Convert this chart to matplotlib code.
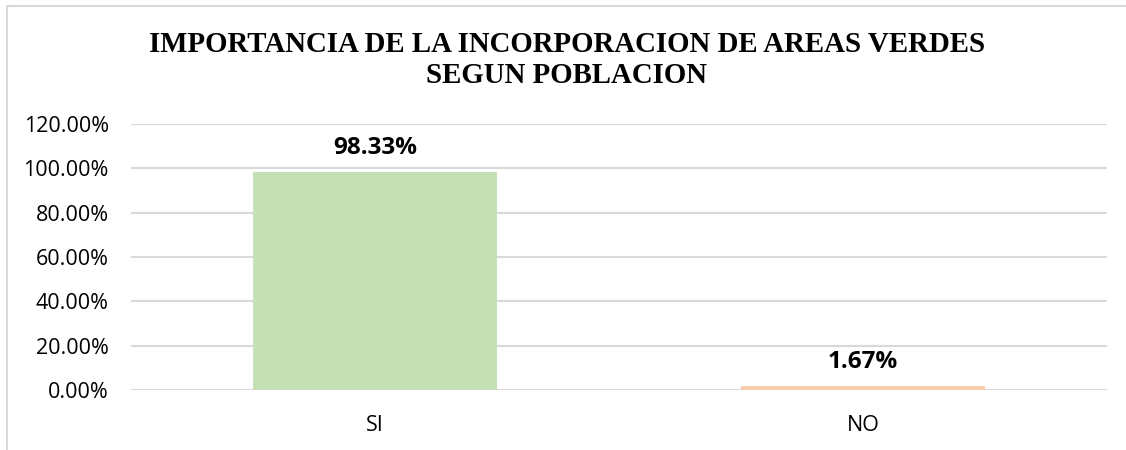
import matplotlib.pyplot as plt
from matplotlib.patches import Rectangle
from matplotlib.ticker import FuncFormatter

categorias = ['SI', 'NO']
porcentajes = [98.33, 1.67]
colores = ['#C5E0B4', '#F8CBAD']
yticks = [0, 20, 40, 60, 80, 100, 120]

fig = plt.figure(figsize=(11.26, 4.5), dpi=100)
ax = fig.add_axes([131 / 1126, 1 - 390 / 450, (1107 - 131) / 1126, (390 - 124) / 450])

# borde del grafico (se sale por la derecha y abajo como en el original)
fig.patches.append(Rectangle((7 / 1126, -0.1), 1.2, 1 - 6 / 450 + 0.1, transform=fig.transFigure,
                             fill=False, edgecolor='#D9D9D9', linewidth=1.5))

x = range(len(categorias))
ax.bar(x, porcentajes, width=0.5, color=colores, zorder=2)

for i, v in zip(x, porcentajes):
    ax.text(i, v + 5.5, f'{v:.2f}%', ha='center', va='bottom', fontsize=17.5,
            fontweight='bold', family='Open Sans')

ax.set_xlim(-0.5, 1.5)
ax.set_ylim(0, 120)
ax.set_yticks(yticks)
ax.yaxis.set_major_formatter(FuncFormatter(lambda v, p: f'{v:.2f}%'))
ax.set_xticks(list(x))
ax.set_xticklabels(categorias)
ax.grid(axis='y', color='#D9D9D9', linewidth=1.5, zorder=0)
for s in ax.spines.values():
    s.set_visible(False)
ax.tick_params(length=0, labelsize=15.5, colors='black')
ax.tick_params(axis='y', pad=16)
ax.tick_params(axis='x', pad=18)
for lab in ax.get_xticklabels() + ax.get_yticklabels():
    lab.set_family('Open Sans')

fig.text(567 / 1126, 1 - 60 / 450, 'IMPORTANCIA DE LA INCORPORACION DE AREAS VERDES\nSEGUN POBLACION',
         ha='center', va='center', fontsize=20.8, fontweight='bold', family='Liberation Serif',
         linespacing=1.15)

fig.savefig('out.png', dpi=100)
